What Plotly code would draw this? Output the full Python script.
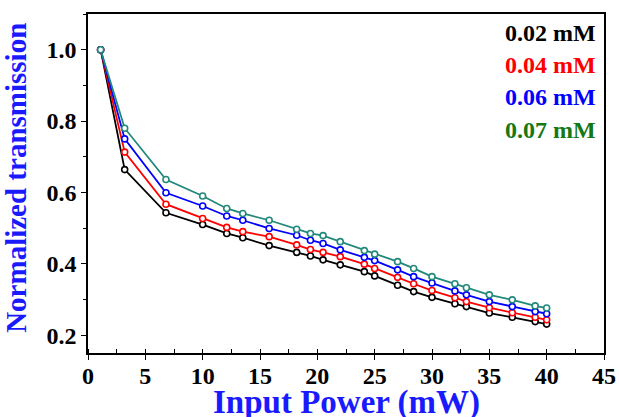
import plotly.graph_objects as go

power = [1.1, 3.2, 6.8, 10.0, 12.1, 13.5, 15.8, 18.2, 19.4, 20.5, 22.0, 24.1, 25.0,
         27.0, 28.4, 30.0, 32.0, 33.0, 35.0, 37.0, 39.0, 40.0]
t_002 = [1.0, 0.664, 0.543, 0.510, 0.485, 0.473, 0.451, 0.432, 0.422, 0.411, 0.397, 0.378, 0.366,
         0.340, 0.322, 0.306, 0.288, 0.280, 0.262, 0.250, 0.238, 0.231]
t_004 = [1.0, 0.713, 0.567, 0.527, 0.502, 0.490, 0.476, 0.453, 0.440, 0.432, 0.420, 0.399, 0.387,
         0.362, 0.344, 0.325, 0.305, 0.294, 0.277, 0.263, 0.250, 0.243]
t_006 = [1.0, 0.750, 0.599, 0.562, 0.534, 0.522, 0.499, 0.480, 0.466, 0.457, 0.439, 0.418, 0.409,
         0.383, 0.364, 0.346, 0.324, 0.313, 0.294, 0.280, 0.266, 0.260]
t_007 = [1.0, 0.780, 0.636, 0.590, 0.555, 0.541, 0.522, 0.497, 0.485, 0.479, 0.462, 0.437, 0.427,
         0.406, 0.387, 0.364, 0.344, 0.333, 0.313, 0.299, 0.282, 0.276]

labels = ["0.02 mM", "0.04 mM", "0.06 mM", "0.07 mM"]
series = [t_002, t_004, t_006, t_007]
line_colors = ["#000000", "#ff0000", "#0000ff", "#22897a"]
text_colors = ["#000000", "#ff0000", "#0000ff", "#147814"]

x_title = "Input Power (mW)"
y_title = "Normalized transmission"

fig = go.Figure()
for lab, ys, c in zip(labels, series, line_colors):
    fig.add_trace(go.Scatter(
        x=power, y=ys, name=lab, mode="lines+markers",
        line=dict(color=c, width=1.8),
        marker=dict(symbol="circle", size=6, color="white", line=dict(color=c, width=1.6)),
        showlegend=False,
    ))

font_fam = "Liberation Serif, Times New Roman, serif"
for i, (lab, c) in enumerate(zip(labels, text_colors)):
    fig.add_annotation(
        x=0.988, y=0.944 - i * 0.095, xref="paper", yref="paper",
        xanchor="right", yanchor="middle", text="<b>%s</b>" % lab, showarrow=False,
        font=dict(family=font_fam, size=24, color=c),
    )

fig.add_annotation(x=0.5, y=-0.146, xref="paper", yref="paper", xanchor="center",
                   yanchor="middle", text="<b>%s</b>" % x_title, showarrow=False,
                   font=dict(family=font_fam, size=33, color="#1a1aff"))
fig.add_annotation(x=-0.14, y=0.516, xref="paper", yref="paper", xanchor="center",
                   yanchor="middle", text="<b>%s</b>" % y_title, showarrow=False, textangle=-90,
                   font=dict(family=font_fam, size=29, color="#1a1aff"))

axis_common = dict(
    showline=True, linecolor="black", linewidth=1.5, mirror=True,
    ticks="outside", ticklen=5, tickwidth=1.3, tickcolor="black",
    showgrid=False, zeroline=False, automargin=False,
    tickfont=dict(family=font_fam, size=24, color="black", weight="bold"),
)

fig.update_layout(
    width=619, height=417,
    margin=dict(l=88, r=15, t=14, b=64),
    plot_bgcolor="white", paper_bgcolor="white",
    xaxis=dict(range=[0, 45], tickvals=[0, 5, 10, 15, 20, 25, 30, 35, 40, 45],
               ticklabelstandoff=-5,
               minor=dict(dtick=2.5, tick0=0, ticks="inside", ticklen=4, tickcolor="black"),
               **axis_common),
    yaxis=dict(range=[0.15, 1.1], tickvals=[0.2, 0.4, 0.6, 0.8, 1.0], tickformat=".1f",
               minor=dict(dtick=0.1, tick0=0, ticks="outside", ticklen=3, tickcolor="black"),
               **axis_common),
)

fig.write_html(
    "out.html",
    config={"displayModeBar": False},
    post_script="document.body.style.margin='0';document.body.style.overflow='hidden';",
)
